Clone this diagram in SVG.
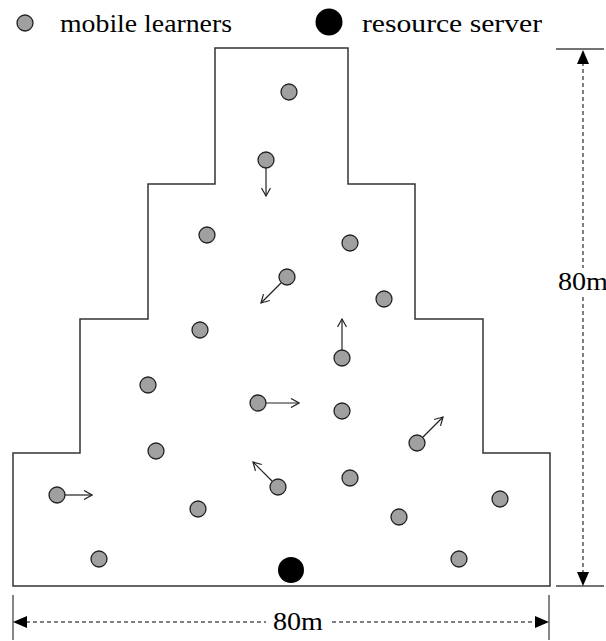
<svg xmlns="http://www.w3.org/2000/svg" width="606" height="641" viewBox="0 0 606 641">
<style>
text{font-family:"Liberation Serif","Times New Roman",serif;font-size:25px;fill:#000}
.ml circle{fill:#a0a0a0;stroke:#222;stroke-width:1.3}
.mv{stroke:#222;stroke-width:1.2;fill:none;marker-end:url(#open)}
.dim{stroke:#000;stroke-width:1;stroke-dasharray:4,3;fill:none}
.tick{stroke:#444;stroke-width:1.3}
</style>
<defs>
<marker id="open" viewBox="0 0 10 10" refX="9" refY="5" markerWidth="10" markerHeight="10" markerUnits="userSpaceOnUse" orient="auto">
<path d="M1,0.5 L9,5 L1,9.5" fill="none" stroke="#222" stroke-width="1.2"/>
</marker>
</defs>
<rect width="606" height="641" fill="#fff"/>
<g id="legend">
<g class="ml"><circle cx="25" cy="23" r="8"/></g>
<text x="60" y="32" textLength="172" lengthAdjust="spacingAndGlyphs">mobile learners</text>
<circle cx="329" cy="22" r="13.5" fill="#000"/>
<text x="362" y="32" textLength="180" lengthAdjust="spacingAndGlyphs">resource server</text>
</g>
<g id="area">
<polygon points="215,48 348,48 348,184 415,184 415,319 483,319 483,453 550,453 550,586 13,586 13,453 80,453 80,319 148,319 148,184 215,184" fill="none" stroke="#333" stroke-width="1.5"/>
</g>
<g id="connectors">
<line class="mv" x1="266" y1="168" x2="266" y2="196"/>
<line class="mv" x1="281" y1="283" x2="261" y2="303"/>
<line class="mv" x1="342" y1="350" x2="342" y2="319"/>
<line class="mv" x1="266" y1="403" x2="299" y2="403"/>
<line class="mv" x1="423" y1="437" x2="443" y2="417"/>
<line class="mv" x1="272" y1="481" x2="253" y2="462"/>
<line class="mv" x1="65" y1="495" x2="92" y2="495"/>
</g>
<g id="learners" class="ml">
<circle cx="289" cy="92" r="8"/>
<circle cx="266" cy="160" r="8"/>
<circle cx="207" cy="235" r="8"/>
<circle cx="350" cy="243" r="8"/>
<circle cx="287" cy="277" r="8"/>
<circle cx="384" cy="299" r="8"/>
<circle cx="200" cy="330" r="8"/>
<circle cx="342" cy="358" r="8"/>
<circle cx="148" cy="385" r="8"/>
<circle cx="258" cy="403" r="8"/>
<circle cx="342" cy="411" r="8"/>
<circle cx="417" cy="443" r="8"/>
<circle cx="156" cy="451" r="8"/>
<circle cx="278" cy="487" r="8"/>
<circle cx="350" cy="478" r="8"/>
<circle cx="57" cy="495" r="8"/>
<circle cx="198" cy="509" r="8"/>
<circle cx="500" cy="499" r="8"/>
<circle cx="399" cy="517" r="8"/>
<circle cx="99" cy="559" r="8"/>
<circle cx="459" cy="559" r="8"/>
</g>
<g id="server">
<circle cx="291" cy="570" r="13" fill="#000"/>
</g>
<g id="dim-vertical">
<line class="tick" x1="556" y1="49" x2="604" y2="49"/>
<line class="tick" x1="556" y1="586" x2="604" y2="586"/>
<line class="dim" x1="583" y1="62" x2="583" y2="268"/>
<line class="dim" x1="583" y1="297" x2="583" y2="574"/>
<polygon points="583,50 577,64 589,64" fill="#000"/>
<polygon points="583,586 577,572 589,572" fill="#000"/>
<text x="558" y="290" textLength="50" lengthAdjust="spacingAndGlyphs">80m</text>
</g>
<g id="dim-horizontal">
<line class="tick" x1="13" y1="595" x2="13" y2="640"/>
<line class="tick" x1="549" y1="595" x2="549" y2="640"/>
<line class="dim" x1="26" y1="622" x2="266" y2="622"/>
<line class="dim" x1="332" y1="622" x2="536" y2="622"/>
<polygon points="13,622 27,616 27,628" fill="#000"/>
<polygon points="549,622 535,616 535,628" fill="#000"/>
<text x="273" y="630" textLength="50" lengthAdjust="spacingAndGlyphs">80m</text>
</g>
</svg>
